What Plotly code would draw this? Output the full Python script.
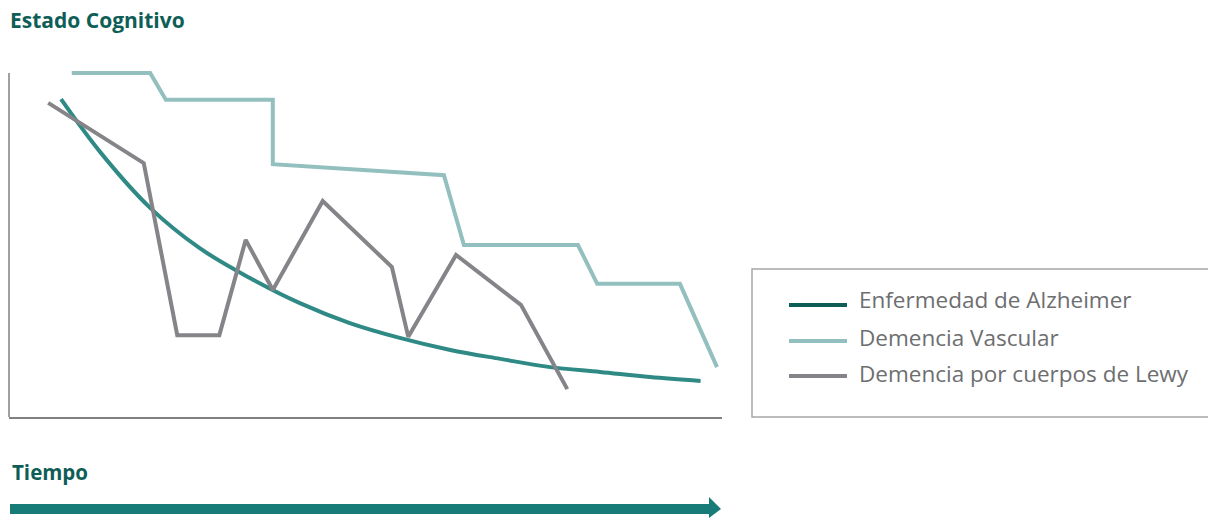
import plotly.graph_objects as go

# ---- data (time 0-100, cognitive state 0-100) ----
series_names = ["Enfermedad de Alzheimer", "Demencia Vascular", "Demencia por cuerpos de Lewy"]

alz_x = [7.3, 12.8, 19.8, 26.8, 33.8, 40.8, 47.8, 54.8, 61.9, 68.9, 75.9, 82.9, 89.9, 97.0]
alz_y = [92.4, 77.0, 60.8, 49.0, 40.4, 33.1, 27.3, 23.0, 19.5, 16.9, 14.5, 13.1, 11.6, 10.5]

vas_x = [8.8, 19.8, 22.0, 37.0, 37.0, 61.0, 63.8, 79.8, 82.5, 94.1, 99.3]
vas_y = [100.0, 100.0, 92.2, 92.2, 73.5, 70.3, 50.0, 50.0, 38.7, 38.7, 14.5]

lewy_x = [5.5, 18.9, 23.6, 29.5, 33.2, 37.0, 44.0, 53.7, 56.0, 62.7, 71.8, 78.3]
lewy_y = [91.3, 73.8, 23.8, 23.8, 51.5, 36.9, 62.8, 43.6, 23.3, 47.1, 32.6, 8.1]

line_colors = ["#2F8A86", "#93C0BE", "#858488"]
legend_colors = ["#0E5E57", "#93C0BE", "#858488"]

W, H = 1208, 518
L, R, T, B = 9, 722, 60, 417  # plot area in pixels


def px(x):
    return (x - L) / (R - L)


def py(y):
    return (B - y) / (B - T)


fig = go.Figure()
fig.add_trace(go.Scatter(x=alz_x, y=alz_y, mode="lines", name=series_names[0],
                         line=dict(color=line_colors[0], width=4, shape="spline", smoothing=1),
                         showlegend=False))
fig.add_trace(go.Scatter(x=vas_x, y=vas_y, mode="lines", name=series_names[1],
                         line=dict(color=line_colors[1], width=4), showlegend=False))
fig.add_trace(go.Scatter(x=lewy_x, y=lewy_y, mode="lines", name=series_names[2],
                         line=dict(color=line_colors[2], width=4), showlegend=False))

shapes = []
# left axis line
shapes.append(dict(type="line", xref="paper", yref="y", x0=0, x1=0, y0=0, y1=100,
                   line=dict(color="#808080", width=1.5)))
# legend box
shapes.append(dict(type="rect", xref="paper", yref="paper",
                   x0=px(752), x1=px(1212), y0=py(269), y1=py(417),
                   line=dict(color="#A6A6A6", width=1.5), fillcolor="rgba(0,0,0,0)"))
annotations = []
legend_line_y = [305, 341, 376]
legend_text_y = [299, 337, 373]
for name, col, ly, ty in zip(series_names, legend_colors, legend_line_y, legend_text_y):
    shapes.append(dict(type="line", xref="paper", yref="paper",
                       x0=px(789), x1=px(847), y0=py(ly), y1=py(ly),
                       line=dict(color=col, width=4)))
    annotations.append(dict(text=name, xref="paper", yref="paper", x=px(857), y=py(ty),
                            xanchor="left", yanchor="middle", showarrow=False,
                            font=dict(family="Open Sans", size=22.5, color="#6D6E70")))

# time arrow
arrow_col = "#177C78"
shapes.append(dict(type="rect", xref="paper", yref="paper",
                   x0=px(10), x1=px(710), y0=py(504), y1=py(514),
                   line=dict(width=0), fillcolor=arrow_col))
shapes.append(dict(type="path", xref="paper", yref="paper",
                   path=f"M {px(709)} {py(497)} L {px(721)} {py(509)} L {px(709)} {py(518)} Z",
                   line=dict(width=0), fillcolor=arrow_col))

annotations.append(dict(text="<b>Estado Cognitivo</b>", xref="paper", yref="paper",
                        x=px(8), y=py(20), xanchor="left", yanchor="middle", showarrow=False,
                        font=dict(family="Open Sans", size=21, color="#0E5E57")))
annotations.append(dict(text="<b>Tiempo</b>", xref="paper", yref="paper",
                        x=px(10), y=py(472), xanchor="left", yanchor="middle", showarrow=False,
                        font=dict(family="Open Sans", size=20.5, color="#0E5E57")))

fig.update_layout(
    width=W, height=H,
    margin=dict(l=L, r=W - R, t=T, b=H - B, pad=0),
    paper_bgcolor="white", plot_bgcolor="white",
    xaxis=dict(range=[0, 100], showgrid=False, zeroline=False, showticklabels=False,
               ticks="", showline=True, linecolor="#808080", linewidth=1.5, fixedrange=True),
    yaxis=dict(range=[0, (B - T) / 3.44], showgrid=False, zeroline=False, showticklabels=False,
               ticks="", showline=False, fixedrange=True),
    shapes=shapes, annotations=annotations, showlegend=False,
)

fig.write_html("out.html", config={"displayModeBar": False})
